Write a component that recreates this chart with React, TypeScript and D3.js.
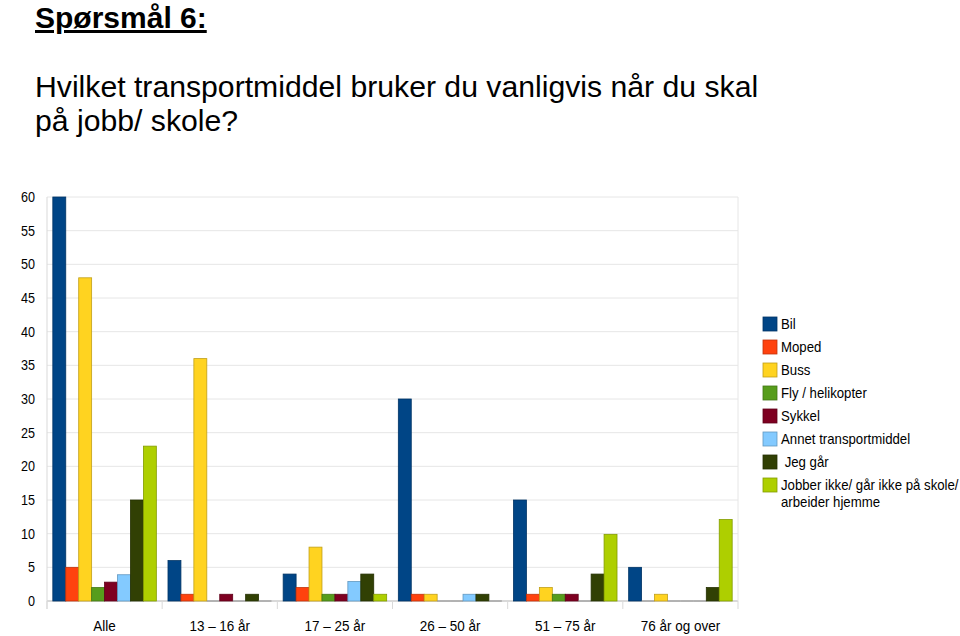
import React, { useEffect, useRef } from 'react';
import * as d3 from 'd3';

const WIDTH = 960;
const HEIGHT = 636;
const PLOT = { left: 47, right: 738, top: 197, bottom: 601 };

const categories = ['Alle', '13 – 16 år', '17 – 25 år', '26 – 50 år', '51 – 75 år', '76 år og over'];
const seriesNames = ['Bil', 'Moped', 'Buss', 'Fly / helikopter', 'Sykkel', 'Annet transportmiddel', ' Jeg går', 'Jobber ikke/ går ikke på skole/ arbeider hjemme'];
const seriesColors = ['#004586', '#ff420e', '#ffd320', '#579d1c', '#7e0021', '#83caff', '#314004', '#aecf00'];

// values per series, one per category
const bil = [60, 6, 4, 30, 15, 5];
const moped = [5, 1, 2, 1, 1, 0];
const buss = [48, 36, 8, 1, 2, 1];
const fly = [2, 0, 1, 0, 1, 0];
const sykkel = [2.8, 1, 1, 0, 1, 0];
const annet = [3.9, 0, 2.9, 1, 0, 0];
const jegGar = [15, 1, 4, 1, 4, 2];
const jobber = [23, 0, 1, 0, 9.9, 12.1];
const seriesValues = [bil, moped, buss, fly, sykkel, annet, jegGar, jobber];

const yTicks = [0, 5, 10, 15, 20, 25, 30, 35, 40, 45, 50, 55, 60];

const legendLines = [['Bil'], ['Moped'], ['Buss'], ['Fly / helikopter'], ['Sykkel'], ['Annet transportmiddel'], [' Jeg går'], ['Jobber ikke/ går ikke på skole/', 'arbeider hjemme']];

const App: React.FC = () => {
  const svgRef = useRef<SVGSVGElement>(null);

  useEffect(() => {
    if (!svgRef.current) return;
    const svg = d3.select(svgRef.current);
    svg.selectAll('*').remove();

    const font = '"Liberation Sans", Arial, sans-serif';

    // Title
    svg.append('text')
      .attr('x', 35).attr('y', 28)
      .attr('font-family', font).attr('font-size', 30).attr('font-weight', 'bold')
      .attr('text-decoration', 'underline')
      .attr('fill', '#000')
      .text('Spørsmål 6:');

    const sub = svg.append('text')
      .attr('font-family', font).attr('font-size', 30.2).attr('fill', '#000');
    sub.append('tspan').attr('x', 35).attr('y', 97).text('Hvilket transportmiddel bruker du vanligvis når du skal');
    sub.append('tspan').attr('x', 35).attr('y', 131).text('på jobb/ skole?');

    const x0 = d3.scaleBand<string>()
      .domain(categories)
      .range([PLOT.left, PLOT.right])
      .paddingInner(0)
      .paddingOuter(0);

    const x1 = d3.scaleBand<number>()
      .domain(d3.range(seriesNames.length))
      .range([0, x0.bandwidth()])
      .paddingOuter(0.45)
      .paddingInner(0);

    const y = d3.scaleLinear().domain([0, 60]).range([PLOT.bottom, PLOT.top]);

    // Gridlines
    svg.append('g').selectAll('line')
      .data(yTicks)
      .join('line')
      .attr('x1', PLOT.left).attr('x2', PLOT.right)
      .attr('y1', d => y(d)).attr('y2', d => y(d))
      .attr('stroke', d => (d === 0 ? '#b3b3b3' : '#e6e6e6'))
      .attr('stroke-width', 1);

    // Right border
    svg.append('line')
      .attr('x1', PLOT.right).attr('x2', PLOT.right)
      .attr('y1', PLOT.top).attr('y2', PLOT.bottom)
      .attr('stroke', '#e6e6e6');

    // Y axis line
    svg.append('line')
      .attr('x1', PLOT.left).attr('x2', PLOT.left)
      .attr('y1', PLOT.top).attr('y2', PLOT.bottom + 8)
      .attr('stroke', '#d9d9d9');

    // Category ticks
    const bounds = categories.map(c => x0(c) as number).concat([PLOT.right]);
    svg.append('g').selectAll('line')
      .data(bounds)
      .join('line')
      .attr('x1', d => d).attr('x2', d => d)
      .attr('y1', PLOT.bottom).attr('y2', PLOT.bottom + 8)
      .attr('stroke', '#d9d9d9');

    // Y labels (slightly condensed like the source)
    svg.append('g').selectAll('text')
      .data(yTicks)
      .join('text')
      .attr('transform', d => `translate(35,${y(d) + 5}) scale(0.9,1)`)
      .attr('text-anchor', 'end')
      .attr('font-family', font).attr('font-size', 14)
      .attr('fill', '#000')
      .text(d => d);

    // X labels
    svg.append('g').selectAll('text')
      .data(categories)
      .join('text')
      .attr('transform', d => `translate(${(x0(d) as number) + x0.bandwidth() / 2},631) scale(0.93,1)`)
      .attr('text-anchor', 'middle')
      .attr('font-family', font).attr('font-size', 14.5)
      .attr('fill', '#000')
      .text(d => d);

    // Bars
    categories.forEach((cat, ci) => {
      const g = svg.append('g').attr('transform', `translate(${x0(cat)},0)`);
      seriesValues.forEach((vals, si) => {
        const v = vals[ci];
        const bx = x1(si) as number;
        const bw = x1.bandwidth();
        if (v === 0) {
          g.append('line')
            .attr('x1', bx).attr('x2', bx + bw)
            .attr('y1', y(0)).attr('y2', y(0))
            .attr('stroke', '#8c8c8c').attr('stroke-width', 1);
          return;
        }
        const c = seriesColors[si];
        g.append('rect')
          .attr('x', bx).attr('y', y(v))
          .attr('width', bw).attr('height', y(0) - y(v))
          .attr('fill', c)
          .attr('stroke', d3.color(c)!.darker(0.8).formatHex())
          .attr('stroke-width', 0.8);
      });
    });

    // Legend
    const lg = svg.append('g');
    let ly = 324;
    legendLines.forEach((lines, i) => {
      const c = seriesColors[i];
      lg.append('rect')
        .attr('x', 763).attr('y', ly - 7)
        .attr('width', 14).attr('height', 14)
        .attr('fill', c)
        .attr('stroke', d3.color(c)!.darker(0.8).formatHex())
        .attr('stroke-width', 0.8);
      lines.forEach((t, li) => {
        lg.append('text')
          .attr('transform', `translate(781,${ly + 5 + li * 17}) scale(0.93,1)`)
          .attr('font-family', font).attr('font-size', 14.2)
          .attr('fill', '#000')
          .attr('xml:space', 'preserve')
          .style('white-space', 'pre')
          .text(t);
      });
      ly += 23;
    });
  }, []);

  return (
    <div style={{ position: 'absolute', left: 0, top: 0, background: '#fff' }}>
      <svg ref={svgRef} width={WIDTH} height={HEIGHT} style={{ display: 'block' }} />
    </div>
  );
};

export default App;
